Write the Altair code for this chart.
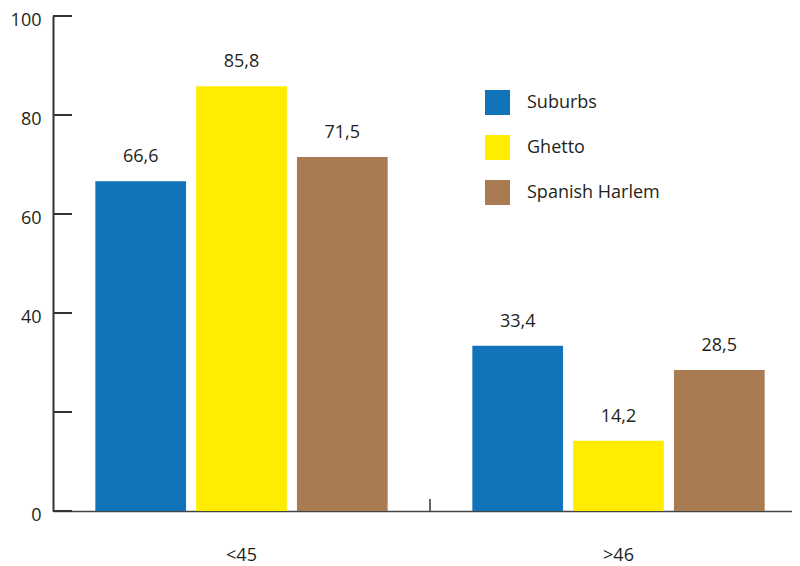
import altair as alt
import pandas as pd

groups = ["<45", ">46"]
series = ["Suburbs", "Ghetto", "Spanish Harlem"]
values_lt45 = [66.6, 85.8, 71.5]
values_gt46 = [33.4, 14.2, 28.5]
colors = ["#1174BB", "#FFED00", "#A87B53"]
y_ticks = [0, 20, 40, 60, 80, 100]
y_labels = [0, 40, 60, 80, 100]
separator_groups = [">46"]

rows = []
for g, vals in zip(groups, [values_lt45, values_gt46]):
    for s, v in zip(series, vals):
        rows.append({"group": g, "series": s, "value": v})
df = pd.DataFrame(rows)
ticks_df = pd.DataFrame({"value": y_ticks})
sep_df = pd.DataFrame({"group": separator_groups})

FONT = "Open Sans"
TXT = "#231F20"
AX = "#333333"

x_scale = alt.Scale(domain=groups, range=[0, 754], paddingInner=0, paddingOuter=0)
x_axis = alt.Axis(title=None, labelAngle=0, ticks=False, labelPadding=35,
                  labelFontSize=18, labelFont=FONT, labelColor=TXT,
                  domainColor="#444444", domainWidth=1.5)
y_scale = alt.Scale(domain=[0, 100])
y_axis = alt.Axis(title=None, values=y_labels, ticks=False, grid=False,
                  labelPadding=12, labelFontSize=18, labelFont=FONT,
                  labelColor=TXT, labelOffset=4, domainColor=AX, domainWidth=2)

x = alt.X("group:N", sort=groups, scale=x_scale, axis=x_axis)
xo = alt.XOffset("series:N", sort=series,
                 scale=alt.Scale(domain=series, paddingInner=0.1, paddingOuter=0.42))
y = alt.Y("value:Q", scale=y_scale, axis=y_axis)

bars = alt.Chart(df).mark_bar().encode(
    x=x, xOffset=xo, y=y,
    color=alt.Color("series:N", sort=series,
                    scale=alt.Scale(domain=series, range=colors),
                    legend=alt.Legend(title=None, orient="none", legendX=432, legendY=74,
                                      symbolType="square", symbolSize=625,
                                      symbolStrokeWidth=0, symbolOpacity=1,
                                      rowPadding=20, labelOffset=17,
                                      labelFontSize=18, labelFont=FONT,
                                      labelColor=TXT, padding=0)),
)

labels = alt.Chart(df).transform_calculate(
    label="replace(format(datum.value, '.1f'), '.', ',')"
).mark_text(dy=-24, fontSize=18, font=FONT, color=TXT).encode(
    x=x, xOffset=xo, y=y, text="label:N"
)

yticks = alt.Chart(ticks_df).mark_rule(color=AX, strokeWidth=2).encode(
    x=alt.value(0), x2=alt.value(19), y=y
)

sep = alt.Chart(sep_df).mark_rule(color=AX, strokeWidth=1.5).encode(
    x=alt.X("group:N", sort=groups, scale=x_scale, axis=x_axis, bandPosition=0),
    y=alt.value(483), y2=alt.value(495)
)

chart = alt.layer(bars, labels, yticks, sep).properties(
    width=739, height=495,
    autosize=alt.AutoSizeParams(type="none"),
    padding={"left": 45, "top": 8, "right": 0, "bottom": 56},
).configure_view(stroke=None)

chart.save("out.html", embed_options={"renderer": "svg", "actions": False})
